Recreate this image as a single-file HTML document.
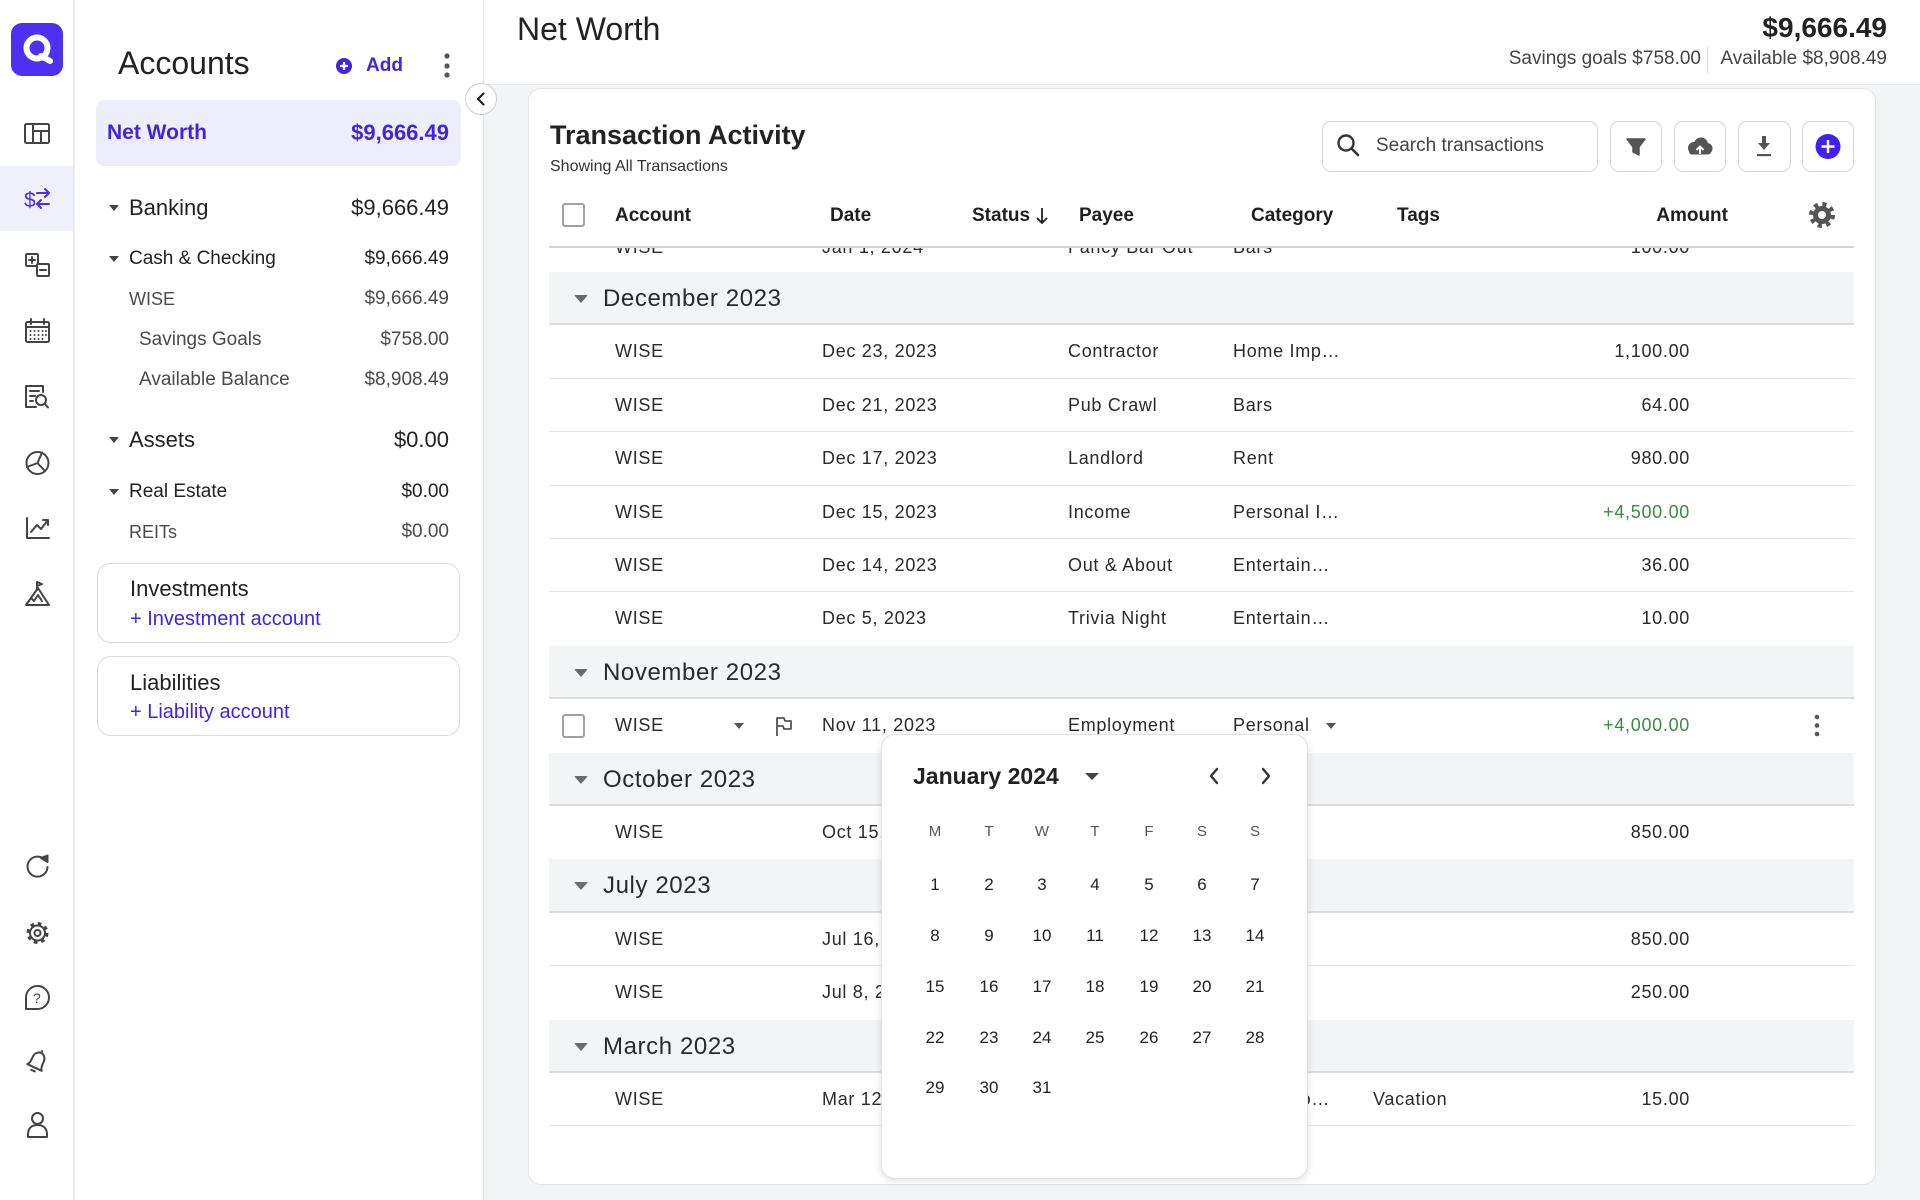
<!DOCTYPE html>
<html><head><meta charset="utf-8">
<style>
*{margin:0;padding:0;box-sizing:border-box}
body{width:1920px;height:1200px;overflow:hidden;position:relative;background:#fff;font-family:"Liberation Sans",sans-serif;color:#262626}
.a{position:absolute}
.t{position:absolute;white-space:nowrap;line-height:30px;height:30px}
.tri{position:absolute;width:0;height:0;border-left:5px solid transparent;border-right:5px solid transparent;border-top:6px solid #444}
.btri{position:absolute;width:0;height:0;border-left:7px solid transparent;border-right:7px solid transparent;border-top:8px solid #6b6b6b;border-radius:2px}
.row{position:absolute;left:549px;width:1305px;height:53.4px;border-bottom:1px solid #e6e6e6;font-size:18px;letter-spacing:.7px;color:#2a2a2a}
.band{position:absolute;left:549px;width:1305px;height:53.4px;background:#f3f4f6;border-bottom:2px solid #dcdcdc;font-size:24px;letter-spacing:.6px;color:#2a2a2a}
.c{position:absolute;top:0;line-height:53px;white-space:nowrap}
.amt{right:164px;text-align:right}
.g{color:#3d8a44}
.hd{position:absolute;top:201px;line-height:30px;font-size:19px;font-weight:bold;color:#1f1f1f;white-space:nowrap}
.d{position:absolute;width:54px;text-align:center;line-height:30px;font-size:17px;color:#222}
.w{position:absolute;width:54px;text-align:center;line-height:30px;font-size:15px;color:#555;top:82px}
.btn{position:absolute;top:121px;height:51px;border:1.5px solid #d4d4d4;border-radius:9px;background:#fff}
.pur{color:#4124e0}
.sub{color:#4a4a4a}
</style></head>
<body>

<!-- Left rail -->
<div class="a" style="left:0;top:0;width:75px;height:1200px;background:#fff;border-right:2px solid #ececec"></div>
<div class="a" style="left:0;top:166px;width:73px;height:65px;background:#f0f0fb"></div>
<div class="a" style="left:11px;top:23px;width:52px;height:53px;border-radius:11px;background:#4f2ff0"></div>
<svg class="a" style="left:11px;top:23px" width="52" height="53"><circle cx="26" cy="25" r="10.5" fill="none" stroke="#fff" stroke-width="6"/><path d="M30 33 L39 38" stroke="#fff" stroke-width="6" stroke-linecap="round"/></svg>

<svg class="a" style="left:0;top:0" width="74" height="1200" fill="none" stroke="#444" stroke-width="2" stroke-linejoin="round" stroke-linecap="round">
<rect x="25" y="124" width="24" height="19" rx="1.5"/>
<path d="M33 124V143M33 131H49M41 131V143"/>
<g stroke="#4b2ee6"><path d="M37 193H49M45 189L49 193L45 197M49 204H37M41 200L37 204L41 208"/></g>
<text x="24" y="207" fill="#4b2ee6" stroke="none" font-size="21" font-family="Liberation Sans">$</text>
<rect x="26" y="254" width="12" height="12" rx="1"/>
<path d="M32 257V263M29 260H35"/>
<rect x="37" y="264" width="12" height="12" rx="1" fill="#fff"/>
<path d="M40 270H46"/>
<rect x="26" y="322" width="23" height="20" rx="1.5"/>
<path d="M26 327H49M31 319V324M44 319V324"/>
<g fill="#444" stroke="none">
<circle cx="30.5" cy="331" r="1"/><circle cx="34.5" cy="331" r="1"/><circle cx="38.5" cy="331" r="1"/><circle cx="42.5" cy="331" r="1"/><circle cx="46" cy="331" r="1"/>
<circle cx="30.5" cy="335" r="1"/><circle cx="34.5" cy="335" r="1"/><circle cx="38.5" cy="335" r="1"/><circle cx="42.5" cy="335" r="1"/><circle cx="46" cy="335" r="1"/>
<circle cx="30.5" cy="339" r="1"/><circle cx="34.5" cy="339" r="1"/><circle cx="38.5" cy="339" r="1"/><circle cx="42.5" cy="339" r="1"/>
</g>
<path d="M43 392V386H26V407H36"/>
<path d="M30 391H39M30 396H35M30 401H33"/>
<circle cx="41" cy="400" r="5" fill="#fff"/>
<path d="M44.5 403.5L48 407.5"/>
<circle cx="37.5" cy="463" r="11"/>
<path d="M42 452.5L37.5 463L27 467M37.5 463L45 471"/>
<path d="M27 518V538H49"/>
<path d="M31 532L37 525L41 529L48 520M43 520H48V525"/>
<path d="M26 605H49L38 588L26 605Z"/>
<path d="M37 590V582L42 584L37 586M31 598L34 601L38 595L42 601"/>
<path d="M45 860A10 10 0 1 0 47.5 867"/>
<path d="M41 858L47.5 855.5L47.5 862Z" fill="#444"/>
<circle cx="37.5" cy="933" r="7.5"/>
<circle cx="37.5" cy="933" r="3"/>
<circle cx="37.5" cy="933" r="9.5" stroke-width="3" stroke-dasharray="3.6 3.86" stroke-linecap="butt"/>
<path d="M26 1009V997A11.5 11.5 0 1 1 37.5 1009Z"/>
<text x="33" y="1003" fill="#444" stroke="none" font-size="14" font-family="Liberation Sans">?</text>
<g transform="rotate(25 37 1062)">
<path d="M29 1068H45C43 1066 43 1063 43 1059C43 1055 40 1052 37 1052C34 1052 31 1055 31 1059C31 1063 31 1066 29 1068Z"/>
<path d="M35 1071.5H39M37 1050V1052"/>
</g>
<circle cx="37.5" cy="1118.5" r="5.5"/>
<path d="M28 1137V1134C28 1128 32 1125 37.5 1125C43 1125 47 1128 47 1134V1137Z"/>
</svg>

<!-- Accounts panel -->
<div class="a" style="left:75px;top:0;width:409px;height:1200px;background:#fff;border-right:1px solid #e6e6e6"></div>
<div class="t" style="left:118px;top:48px;font-size:32px;color:#222">Accounts</div>
<svg class="a" style="left:335px;top:57px" width="18" height="18"><circle cx="9" cy="9" r="8" fill="#4124e0"/><path d="M9 5V13M5 9H13" stroke="#fff" stroke-width="2.2"/></svg>
<div class="t pur" style="left:366px;top:51px;font-size:19px;font-weight:bold">Add</div>
<svg class="a" style="left:442px;top:52px" width="10" height="28"><circle cx="5" cy="4" r="2.6" fill="#555"/><circle cx="5" cy="14" r="2.6" fill="#555"/><circle cx="5" cy="23" r="2.6" fill="#555"/></svg>

<div class="a" style="left:96px;top:100px;width:365px;height:66px;border-radius:8px;background:#eeeefb"></div>
<div class="t pur" style="left:107px;top:118px;font-size:21px;font-weight:bold">Net Worth</div>
<div class="t pur" style="right:1471px;top:118px;font-size:22px;font-weight:bold">$9,666.49</div>

<div class="tri" style="left:109px;top:205px"></div>
<div class="t" style="left:129px;top:193px;font-size:22px;color:#222">Banking</div>
<div class="t" style="right:1471px;top:193px;font-size:22px;color:#222">$9,666.49</div>
<div class="tri" style="left:109px;top:256px"></div>
<div class="t" style="left:129px;top:244px;font-size:19px;color:#222">Cash &amp; Checking</div>
<div class="t" style="right:1471px;top:244px;font-size:19px;color:#222">$9,666.49</div>
<div class="t sub" style="left:129px;top:284px;font-size:18px">WISE</div>
<div class="t sub" style="right:1471px;top:284px;font-size:19px">$9,666.49</div>
<div class="t sub" style="left:139px;top:325px;font-size:19px">Savings Goals</div>
<div class="t sub" style="right:1471px;top:325px;font-size:19px">$758.00</div>
<div class="t sub" style="left:139px;top:365px;font-size:19px">Available Balance</div>
<div class="t sub" style="right:1471px;top:365px;font-size:19px">$8,908.49</div>
<div class="tri" style="left:109px;top:437px"></div>
<div class="t" style="left:129px;top:425px;font-size:22px;color:#222">Assets</div>
<div class="t" style="right:1471px;top:425px;font-size:22px;color:#222">$0.00</div>
<div class="tri" style="left:109px;top:489px"></div>
<div class="t" style="left:129px;top:477px;font-size:19px;color:#222">Real Estate</div>
<div class="t" style="right:1471px;top:477px;font-size:19px;color:#222">$0.00</div>
<div class="t sub" style="left:129px;top:517px;font-size:18px">REITs</div>
<div class="t sub" style="right:1471px;top:517px;font-size:19px">$0.00</div>

<div class="a" style="left:97px;top:563px;width:363px;height:80px;border:1px solid #dadada;border-radius:14px"></div>
<div class="t" style="left:130px;top:574px;font-size:22px;color:#222">Investments</div>
<div class="t pur" style="left:130px;top:604px;font-size:20px">+ Investment account</div>
<div class="a" style="left:97px;top:656px;width:363px;height:80px;border:1px solid #dadada;border-radius:14px"></div>
<div class="t" style="left:130px;top:668px;font-size:22px;color:#222">Liabilities</div>
<div class="t pur" style="left:130px;top:697px;font-size:20px">+ Liability account</div>

<!-- Main bg -->
<div class="a" style="left:484px;top:0;width:1436px;height:85px;background:#fff;border-bottom:1px solid #e5e5e5"></div>
<div class="a" style="left:484px;top:85px;width:1436px;height:1115px;background:#f3f4f6"></div>
<div class="t" style="left:517px;top:14px;font-size:32px;color:#222">Net Worth</div>
<div class="t" style="right:33px;top:13px;font-size:28px;font-weight:bold;color:#222">$9,666.49</div>
<div class="t" style="right:219px;top:44px;font-size:19px;color:#444">Savings goals $758.00</div>
<div class="a" style="left:1707px;top:47px;width:1px;height:26px;background:#d8d8d8"></div>
<div class="t" style="right:33px;top:44px;font-size:19px;color:#444">Available $8,908.49</div>

<!-- collapse button -->
<svg class="a" style="left:464px;top:82px" width="34" height="34"><circle cx="17" cy="17" r="15.5" fill="#fff" stroke="#cfcfcf"/><path d="M19.5 11.5L14 17L19.5 22.5" fill="none" stroke="#222" stroke-width="2.2" stroke-linecap="round" stroke-linejoin="round"/></svg>

<!-- Card -->
<div class="a" style="left:528px;top:88px;width:1348px;height:1097px;background:#fff;border:1px solid #e4e4e4;border-radius:13px"></div>
<div class="t" style="left:550px;top:120px;font-size:27px;font-weight:bold;color:#222">Transaction Activity</div>
<div class="t" style="left:550px;top:152px;font-size:16px;color:#333">Showing All Transactions</div>

<div class="btn" style="left:1322px;width:276px"></div>
<svg class="a" style="left:1334px;top:132px" width="30" height="30"><circle cx="12" cy="11" r="7.5" fill="none" stroke="#333" stroke-width="2.4"/><path d="M17.5 16.5L24 23" stroke="#333" stroke-width="2.6" stroke-linecap="round"/></svg>
<div class="t" style="left:1376px;top:131px;font-size:19px;color:#444">Search transactions</div>
<div class="btn" style="left:1610px;width:52px"></div>
<div class="btn" style="left:1674px;width:52px"></div>
<div class="btn" style="left:1738px;width:53px"></div>
<div class="btn" style="left:1802px;width:52px"></div>
<svg class="a" style="left:1600px;top:121px" width="260" height="51">
<path d="M27 18H45L39 26V34L33 31V26Z" fill="#555" stroke="#555" stroke-width="1.5" stroke-linejoin="round"/>
<g fill="#555"><circle cx="94" cy="27" r="6"/><circle cx="101" cy="23.5" r="7"/><circle cx="107" cy="27.5" r="5.5"/><rect x="89" y="27" width="22" height="6.5" rx="3"/></g>
<path d="M100 33V26M96.5 29L100 25.5L103.5 29" fill="none" stroke="#fff" stroke-width="2"/>
<rect x="162" y="15" width="4" height="8" fill="#555"/><path d="M158 22H170L164 29Z" fill="#555"/><rect x="157" y="33" width="14" height="2.2" fill="#555"/>
<circle cx="228" cy="25.5" r="12.5" fill="#4320ee"/><path d="M228 19V32M221.5 25.5H234.5" stroke="#fff" stroke-width="2.5"/>
</svg>

<!-- Clipped first row -->
<div class="a" style="left:549px;top:247px;width:1305px;height:10px;overflow:hidden;font-size:18px;letter-spacing:.7px;color:#2a2a2a">
<div class="t" style="left:66px;top:-15px">WISE</div>
<div class="t" style="left:273px;top:-15px">Jan 1, 2024</div>
<div class="t" style="left:519px;top:-15px">Fancy Bar Out</div>
<div class="t" style="left:684px;top:-15px">Bars</div>
<div class="t" style="right:164px;top:-15px">100.00</div>
</div>

<!-- Table header -->
<div class="a" style="left:562px;top:203px;width:23px;height:24px;border:2px solid #a0a0a0;border-radius:3px"></div>
<div class="hd" style="left:615px">Account</div>
<div class="hd" style="left:830px">Date</div>
<div class="hd" style="left:972px">Status</div>
<svg class="a" style="left:1035px;top:207px" width="14" height="18"><path d="M7 1V16M2 11L7 16L12 11" fill="none" stroke="#222" stroke-width="1.8"/></svg>
<div class="hd" style="left:1079px">Payee</div>
<div class="hd" style="left:1251px">Category</div>
<div class="hd" style="left:1397px">Tags</div>
<div class="hd" style="right:192px">Amount</div>
<svg class="a" style="left:1808px;top:201px" width="28" height="28"><circle cx="14" cy="14" r="9" fill="#555"/><circle cx="14" cy="14" r="10.5" fill="none" stroke="#555" stroke-width="5" stroke-dasharray="4 4.25"/><circle cx="14" cy="14" r="4" fill="#fff"/></svg>
<div class="a" style="left:549px;top:246px;width:1305px;height:2px;background:#d2d2d2"></div>

<!-- Rows -->
<div class="band" style="top:272px"><div class="btri" style="left:25px;top:23px"></div><span class="c" style="left:54px">December 2023</span></div>
<div class="row" style="top:325.4px"><span class="c" style="left:66px">WISE</span><span class="c" style="left:273px">Dec 23, 2023</span><span class="c" style="left:519px">Contractor</span><span class="c" style="left:684px">Home Imp…</span><span class="c amt">1,100.00</span></div>
<div class="row" style="top:378.8px"><span class="c" style="left:66px">WISE</span><span class="c" style="left:273px">Dec 21, 2023</span><span class="c" style="left:519px">Pub Crawl</span><span class="c" style="left:684px">Bars</span><span class="c amt">64.00</span></div>
<div class="row" style="top:432.2px"><span class="c" style="left:66px">WISE</span><span class="c" style="left:273px">Dec 17, 2023</span><span class="c" style="left:519px">Landlord</span><span class="c" style="left:684px">Rent</span><span class="c amt">980.00</span></div>
<div class="row" style="top:485.6px"><span class="c" style="left:66px">WISE</span><span class="c" style="left:273px">Dec 15, 2023</span><span class="c" style="left:519px">Income</span><span class="c" style="left:684px">Personal I…</span><span class="c amt g">+4,500.00</span></div>
<div class="row" style="top:539px"><span class="c" style="left:66px">WISE</span><span class="c" style="left:273px">Dec 14, 2023</span><span class="c" style="left:519px">Out &amp; About</span><span class="c" style="left:684px">Entertain…</span><span class="c amt">36.00</span></div>
<div class="row" style="top:592.4px;border-bottom:none"><span class="c" style="left:66px">WISE</span><span class="c" style="left:273px">Dec 5, 2023</span><span class="c" style="left:519px">Trivia Night</span><span class="c" style="left:684px">Entertain…</span><span class="c amt">10.00</span></div>

<div class="band" style="top:645.8px"><div class="btri" style="left:25px;top:23px"></div><span class="c" style="left:54px">November 2023</span></div>
<div class="row" style="top:699.2px;border-bottom:none">
<div class="a" style="left:13px;top:15px;width:23px;height:24px;border:2px solid #a0a0a0;border-radius:3px"></div>
<span class="c" style="left:66px">WISE</span>
<div class="tri" style="left:185px;top:24px;border-top-color:#555"></div>
<svg class="a" style="left:225px;top:16px" width="20" height="22"><path d="M3 21V3H10L11 6H17V14H10L9 11H3" fill="none" stroke="#555" stroke-width="1.8" stroke-linejoin="round"/></svg>
<span class="c" style="left:273px">Nov 11, 2023</span>
<span class="c" style="left:519px">Employment</span>
<span class="c" style="left:684px">Personal</span>
<div class="tri" style="left:777px;top:24px;border-top-color:#555"></div>
<span class="c amt g">+4,000.00</span>
<svg class="a" style="left:1264px;top:14px" width="8" height="26"><circle cx="4" cy="4" r="2.3" fill="#555"/><circle cx="4" cy="12.5" r="2.3" fill="#555"/><circle cx="4" cy="21" r="2.3" fill="#555"/></svg>
</div>

<div class="band" style="top:752.6px"><div class="btri" style="left:25px;top:23px"></div><span class="c" style="left:54px">October 2023</span></div>
<div class="row" style="top:806px;border-bottom:none"><span class="c" style="left:66px">WISE</span><span class="c" style="left:273px">Oct 15, 2023</span><span class="c amt">850.00</span></div>

<div class="band" style="top:859.4px"><div class="btri" style="left:25px;top:23px"></div><span class="c" style="left:54px">July 2023</span></div>
<div class="row" style="top:912.8px"><span class="c" style="left:66px">WISE</span><span class="c" style="left:273px">Jul 16, 2023</span><span class="c amt">850.00</span></div>
<div class="row" style="top:966.2px;border-bottom:none"><span class="c" style="left:66px">WISE</span><span class="c" style="left:273px">Jul 8, 2023</span><span class="c amt">250.00</span></div>

<div class="band" style="top:1019.6px"><div class="btri" style="left:25px;top:23px"></div><span class="c" style="left:54px">March 2023</span></div>
<div class="row" style="top:1073px"><span class="c" style="left:66px">WISE</span><span class="c" style="left:273px">Mar 12, 2023</span><span class="c" style="right:524px">Hotel Transpo…</span><span class="c" style="left:824px">Vacation</span><span class="c amt">15.00</span></div>

<!-- Calendar popup -->
<div class="a" style="left:881px;top:734px;width:427px;height:445px;background:#fff;border:1px solid #e2e2e2;border-radius:14px;box-shadow:0 2px 8px rgba(0,0,0,.12)">
<div class="t" style="left:31px;top:26px;font-size:23px;font-weight:bold;color:#222">January 2024</div>
<svg class="a" style="left:200px;top:34px" width="20" height="14"><path d="M3 4H17L10 11Z" fill="#444"/></svg>
<svg class="a" style="left:320px;top:29px" width="80" height="24"><path d="M15 5L9 12L15 19" fill="none" stroke="#333" stroke-width="2.4" stroke-linecap="round" stroke-linejoin="round"/><path d="M61 5L67 12L61 19" fill="none" stroke="#333" stroke-width="2.4" stroke-linecap="round" stroke-linejoin="round"/></svg>
<div class="w" style="left:26px">M</div><div class="w" style="left:80px">T</div><div class="w" style="left:133px">W</div><div class="w" style="left:186px">T</div><div class="w" style="left:240px">F</div><div class="w" style="left:293px">S</div><div class="w" style="left:346px">S</div>
<div class="d" style="left:26px;top:135px">1</div><div class="d" style="left:80px;top:135px">2</div><div class="d" style="left:133px;top:135px">3</div><div class="d" style="left:186px;top:135px">4</div><div class="d" style="left:240px;top:135px">5</div><div class="d" style="left:293px;top:135px">6</div><div class="d" style="left:346px;top:135px">7</div>
<div class="d" style="left:26px;top:186px">8</div><div class="d" style="left:80px;top:186px">9</div><div class="d" style="left:133px;top:186px">10</div><div class="d" style="left:186px;top:186px">11</div><div class="d" style="left:240px;top:186px">12</div><div class="d" style="left:293px;top:186px">13</div><div class="d" style="left:346px;top:186px">14</div>
<div class="d" style="left:26px;top:237px">15</div><div class="d" style="left:80px;top:237px">16</div><div class="d" style="left:133px;top:237px">17</div><div class="d" style="left:186px;top:237px">18</div><div class="d" style="left:240px;top:237px">19</div><div class="d" style="left:293px;top:237px">20</div><div class="d" style="left:346px;top:237px">21</div>
<div class="d" style="left:26px;top:288px">22</div><div class="d" style="left:80px;top:288px">23</div><div class="d" style="left:133px;top:288px">24</div><div class="d" style="left:186px;top:288px">25</div><div class="d" style="left:240px;top:288px">26</div><div class="d" style="left:293px;top:288px">27</div><div class="d" style="left:346px;top:288px">28</div>
<div class="d" style="left:26px;top:338px">29</div><div class="d" style="left:80px;top:338px">30</div><div class="d" style="left:133px;top:338px">31</div>
</div>

</body></html>
